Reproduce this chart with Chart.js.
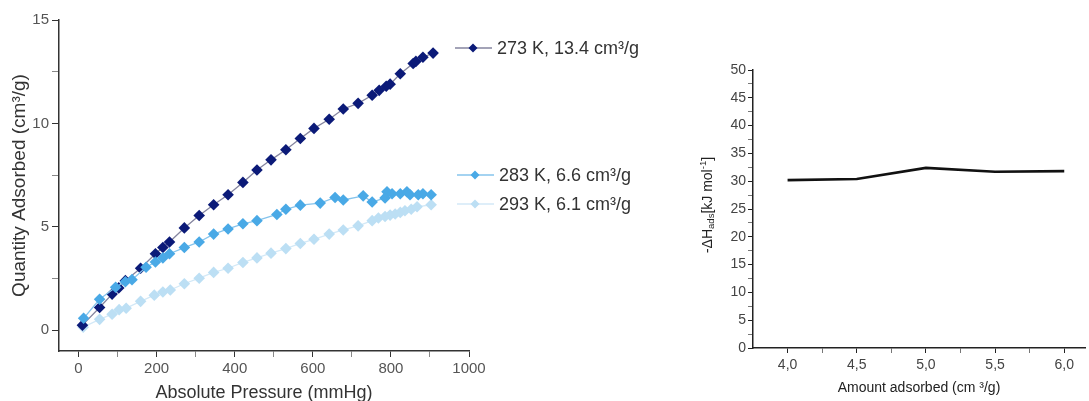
<!DOCTYPE html>
<html>
<head>
<meta charset="utf-8">
<script src="https://cdn.jsdelivr.net/npm/chart.js@4"></script>
<style>
html, body { margin: 0; padding: 0; background: #fff; overflow: hidden; width: 1089px; height: 401px; }
#isoChart { position: absolute; left: 0; top: 0; }
#heatChart { position: absolute; left: 700px; top: 0; }
</style>
</head>
<body>
<canvas id="isoChart" width="660" height="401"></canvas>
<canvas id="heatChart" width="389" height="401"></canvas>
<script>
// Изотермы: давление (mmHg) и адсорбция (cm3/g)
const p273 = [10, 54, 86, 103, 120, 159, 197, 216, 233, 271, 309, 346, 383, 421, 457, 493, 531, 568, 603, 642, 678, 716, 752, 770, 788, 798, 824, 857, 864, 882, 908];
const q273 = [0.25, 1.1, 1.75, 2.05, 2.4, 3.0, 3.7, 4.0, 4.27, 4.95, 5.55, 6.07, 6.55, 7.15, 7.75, 8.24, 8.73, 9.27, 9.76, 10.2, 10.7, 10.97, 11.36, 11.6, 11.8, 11.9, 12.4, 12.9, 13.0, 13.2, 13.4];

const p283 = [13, 54, 95, 120, 137, 173, 197, 216, 233, 271, 309, 346, 383, 421, 457, 508, 531, 568, 619, 657, 678, 729, 752, 785, 790, 803, 824, 841, 849, 870, 882, 903];
const q283 = [0.58, 1.5, 2.08, 2.35, 2.45, 3.05, 3.3, 3.5, 3.7, 4.0, 4.27, 4.65, 4.9, 5.15, 5.3, 5.6, 5.85, 6.05, 6.15, 6.42, 6.3, 6.5, 6.2, 6.4, 6.7, 6.6, 6.6, 6.7, 6.55, 6.55, 6.6, 6.55];

const p293 = [12, 54, 86, 104, 122, 159, 194, 216, 235, 271, 309, 346, 383, 421, 457, 493, 531, 568, 603, 642, 678, 716, 752, 768, 785, 798, 811, 824, 836, 852, 867, 903];
const q293 = [0.15, 0.53, 0.78, 1.0, 1.07, 1.4, 1.7, 1.85, 1.95, 2.25, 2.52, 2.8, 3.0, 3.28, 3.5, 3.73, 3.95, 4.2, 4.4, 4.65, 4.85, 5.05, 5.3, 5.43, 5.5, 5.57, 5.62, 5.7, 5.78, 5.85, 5.97, 6.07];

const seriesLabels = ['273 K, 13.4 cm³/g', '283 K, 6.6 cm³/g', '293 K, 6.1 cm³/g'];

const pressureTicks = [0, 100, 200, 300, 400, 500, 600, 700, 800, 900, 1000];
const pressureLabels = [0, 200, 400, 600, 800, 1000];
const quantityTicks = [0, 2.5, 5, 7.5, 10, 12.5, 15];
const quantityLabels = [0, 5, 10, 15];

// Теплота адсорбции
const amountAdsorbed = [4.0, 4.5, 5.0, 5.5, 6.0];
const heatValues = [30.2, 30.4, 32.4, 31.7, 31.8];
const amountTicks = [4.0, 4.25, 4.5, 4.75, 5.0, 5.25, 5.5, 5.75, 6.0];
const amountLabels = [4.0, 4.5, 5.0, 5.5, 6.0];
const heatTicks = [0, 2.5, 5, 7.5, 10, 12.5, 15, 17.5, 20, 22.5, 25, 27.5, 30, 32.5, 35, 37.5, 40, 42.5, 45, 47.5, 50];
const heatLabels = [0, 5, 10, 15, 20, 25, 30, 35, 40, 45, 50];

const FONT = 'Arial, "Liberation Sans", sans-serif';
Chart.defaults.font.family = FONT;
Chart.defaults.animation = false;

const markerColors = ['#0b1a78', '#49a9e6', '#bcdff4'];
const lineColors = ['#85859f', '#86c4ec', '#d3e9f7'];

function toPoints(xs, ys) {
    return xs.map((x, i) => ({ x: x, y: ys[i] }));
}

function makeSeries(label, xs, ys, idx, order) {
    return {
        label: label,
        data: toPoints(xs, ys),
        showLine: true,
        borderColor: lineColors[idx],
        borderWidth: 1.3,
        pointStyle: 'rectRot',
        pointRadius: 5.8,
        pointBackgroundColor: markerColors[idx],
        pointBorderColor: markerColors[idx],
        pointBorderWidth: 0,
        order: order
    };
}

// Легенда справа от графика
const sideLegend = {
    id: 'sideLegend',
    afterDraw(chart) {
        const ctx = chart.ctx;
        const rows = [{ x: 455, y: 48 }, { x: 457, y: 175 }, { x: 457, y: 204 }];
        ctx.save();
        rows.forEach((row, i) => {
            ctx.strokeStyle = lineColors[i];
            ctx.lineWidth = 1.3;
            ctx.beginPath();
            ctx.moveTo(row.x, row.y);
            ctx.lineTo(row.x + 37, row.y);
            ctx.stroke();
            ctx.fillStyle = markerColors[i];
            ctx.beginPath();
            const cx = row.x + 18, r = 4.5;
            ctx.moveTo(cx, row.y - r);
            ctx.lineTo(cx + r, row.y);
            ctx.lineTo(cx, row.y + r);
            ctx.lineTo(cx - r, row.y);
            ctx.closePath();
            ctx.fill();
            ctx.fillStyle = '#333';
            ctx.font = '18px ' + FONT;
            ctx.textBaseline = 'middle';
            ctx.fillText(seriesLabels[i], row.x + 42, row.y + 1);
        });
        ctx.restore();
    }
};

new Chart(document.getElementById('isoChart'), {
    type: 'scatter',
    data: {
        datasets: [
            makeSeries(seriesLabels[1], p283, q283, 1, 0),
            makeSeries(seriesLabels[0], p273, q273, 0, 1),
            makeSeries(seriesLabels[2], p293, q293, 2, 2)
        ]
    },
    options: {
        responsive: false,
        layout: { padding: { left: 0, right: 191, top: 20, bottom: 0 } },
        plugins: { legend: { display: false }, tooltip: { enabled: false } },
        scales: {
            x: {
                type: 'linear', min: -50, max: 1000,
                afterBuildTicks: s => { s.ticks = pressureTicks.map(v => ({ value: v })); },
                afterFit: s => { s.height = 50; },
                grid: {
                    drawOnChartArea: false, tickLength: 6,
                    tickColor: c => pressureLabels.includes(c.tick.value) ? '#333' : '#888'
                },
                border: { display: true, color: '#333', width: 1.5 },
                ticks: {
                    color: '#555', font: { size: 15 }, padding: 3, autoSkip: false, maxRotation: 0,
                    callback: v => pressureLabels.includes(v) ? String(v) : ''
                },
                title: {
                    display: true, text: 'Absolute Pressure (mmHg)', color: '#333',
                    font: { size: 18, lineHeight: 1 }, padding: { top: 0, bottom: -1 }
                }
            },
            y: {
                type: 'linear', min: -1, max: 15,
                afterBuildTicks: s => { s.ticks = quantityTicks.map(v => ({ value: v })); },
                afterFit: s => { s.width = 59; },
                grid: {
                    drawOnChartArea: false, tickLength: 7,
                    tickColor: c => quantityLabels.includes(c.tick.value) ? '#333' : '#888'
                },
                border: { display: true, color: '#333', width: 1.5 },
                ticks: {
                    color: '#555', font: { size: 15 }, padding: 3, autoSkip: false,
                    callback: v => quantityLabels.includes(v) ? String(v) : ''
                },
                title: {
                    display: true, text: 'Quantity Adsorbed (cm³/g)', color: '#333',
                    font: { size: 19, lineHeight: 1 }, padding: { top: 10, bottom: 0 }
                }
            }
        }
    },
    plugins: [sideLegend]
});

// Подпись оси Y с индексами
const heatTitle = {
    id: 'heatTitle',
    afterDraw(chart) {
        const { ctx, chartArea } = chart;
        const parts = [
            { t: '-ΔH', size: 14, dy: 0 },
            { t: 'ads', size: 9.5, dy: 3.5 },
            { t: '[kJ mol', size: 14, dy: 0 },
            { t: '-1', size: 9.5, dy: -5 },
            { t: ']', size: 14, dy: 0 }
        ];
        ctx.save();
        ctx.fillStyle = '#222';
        ctx.textBaseline = 'middle';
        let total = 0;
        parts.forEach(p => {
            ctx.font = p.size + 'px ' + FONT;
            p.w = ctx.measureText(p.t).width;
            total += p.w;
        });
        ctx.translate(8, (chartArea.top + chartArea.bottom) / 2 - 4);
        ctx.rotate(-Math.PI / 2);
        let x = -total / 2;
        parts.forEach(p => {
            ctx.font = p.size + 'px ' + FONT;
            ctx.fillText(p.t, x, p.dy);
            x += p.w;
        });
        ctx.restore();
    }
};

new Chart(document.getElementById('heatChart'), {
    type: 'scatter',
    data: {
        datasets: [{
            data: toPoints(amountAdsorbed, heatValues),
            showLine: true,
            borderColor: '#111',
            borderWidth: 2.7,
            pointRadius: 0,
            tension: 0
        }]
    },
    options: {
        responsive: false,
        layout: { padding: { left: 0, right: 4, top: 70, bottom: 0 } },
        plugins: { legend: { display: false }, tooltip: { enabled: false } },
        scales: {
            x: {
                type: 'linear', min: 3.75, max: 6.15,
                afterBuildTicks: s => { s.ticks = amountTicks.map(v => ({ value: v })); },
                afterFit: s => { s.height = 53; },
                grid: {
                    drawOnChartArea: false, tickLength: 5,
                    tickColor: c => amountLabels.includes(c.tick.value) ? '#222' : '#777'
                },
                border: { display: true, color: '#222', width: 1.5 },
                ticks: {
                    color: '#444', font: { size: 14 }, padding: 4, autoSkip: false, maxRotation: 0,
                    callback: v => amountLabels.includes(v) ? v.toFixed(1).replace('.', ',') : ''
                },
                title: {
                    display: true, text: 'Amount adsorbed (cm ³/g)', color: '#222',
                    font: { size: 14, lineHeight: 1 }, padding: { top: 0, bottom: 6 }
                }
            },
            y: {
                type: 'linear', min: 0, max: 50,
                afterBuildTicks: s => { s.ticks = heatTicks.map(v => ({ value: v })); },
                afterFit: s => { s.width = 53; },
                grid: {
                    drawOnChartArea: false, tickLength: 5,
                    tickColor: c => heatLabels.includes(c.tick.value) ? '#222' : '#777'
                },
                border: { display: true, color: '#222', width: 1.5 },
                ticks: {
                    color: '#444', font: { size: 14 }, padding: 2, autoSkip: false,
                    callback: v => heatLabels.includes(v) ? String(v) : ''
                }
            }
        }
    },
    plugins: [heatTitle]
});
</script>
</body>
</html>
